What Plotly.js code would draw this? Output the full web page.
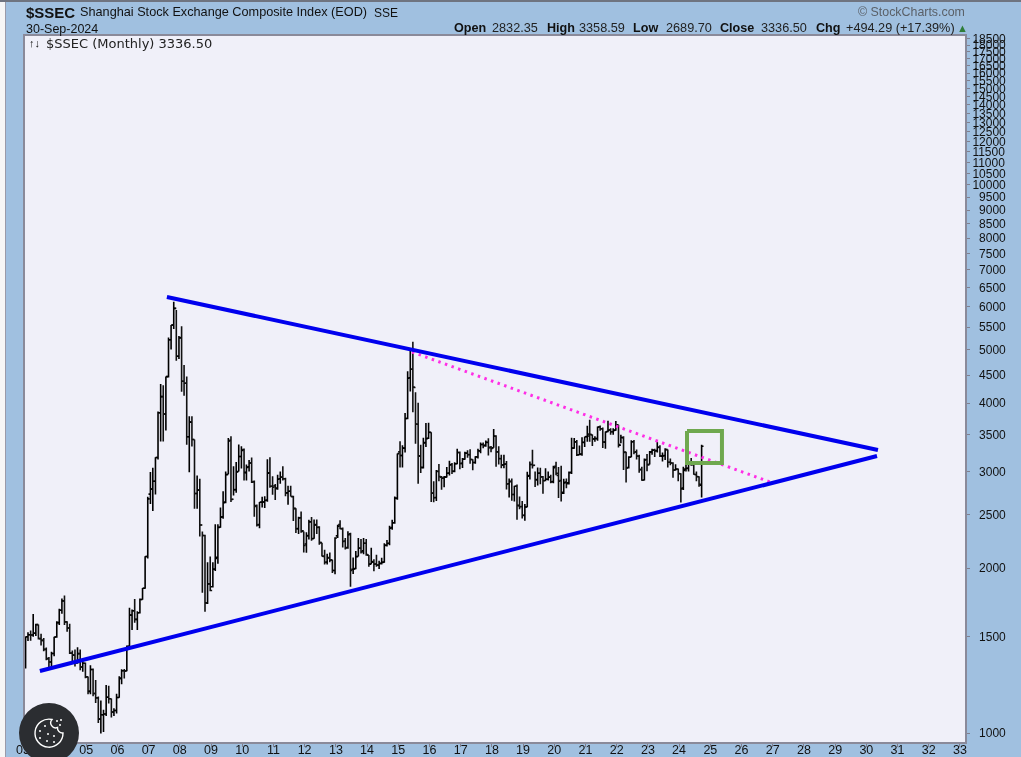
<!DOCTYPE html>
<html><head><meta charset="utf-8">
<script src="https://cdn.plot.ly/plotly-3.0.1.min.js"></script>
<style>
html,body{margin:0;padding:0;background:#a0c0e0;overflow:hidden}
#chart{position:absolute;left:0;top:0;width:1021px;height:757px;filter:blur(0.3px)}
#edgeL{position:absolute;left:0;top:0;width:5px;height:757px;background:#f6f6f6;border-right:1px solid #9a9aa8}
#edgeT{position:absolute;left:0;top:0;width:1021px;height:2px;background:#6f7480}
#cookie{position:absolute;left:19px;top:703px;width:60px;height:54px;overflow:hidden}
</style></head><body>
<div id="chart"></div><div id="edgeL"></div><div id="edgeT"></div>
<div id="cookie"><svg width="60" height="60" viewBox="0 0 60 60">
<circle cx="30" cy="30" r="30" fill="#2b2d31"/>
<path d="M33 16.5 A14 14 0 1 0 44 30 A5 5 0 0 1 38.5 24.5 A5 5 0 0 1 33 16.5 Z" fill="none" stroke="#fff" stroke-width="1.4"/>
<g fill="#fff"><circle cx="26" cy="23" r="1"/><circle cx="21" cy="28" r="1"/><circle cx="29" cy="31" r="1"/><circle cx="35" cy="33" r="1"/><circle cx="21" cy="35" r="1"/><circle cx="28" cy="38" r="1"/><circle cx="35" cy="39" r="1"/><circle cx="38" cy="18" r="1"/><circle cx="42" cy="17" r="1"/><circle cx="41" cy="22" r="1"/></g>
</svg></div>
<script>
const open_ = [
1320,1499,1511,1510,1521,1577,1487,1476,1421,1367,1348,1397,
1497,1590,1675,1742,1595,1555,1399,1387,1342,1396,1320,1341,
1266,1191,1306,1181,1159,1060,1080,1083,1162,1155,1092,1099,
1161,1258,1299,1298,1440,1641,1672,1612,1658,1752,1837,2099,
2728,2786,2881,3183,3841,4109,3820,4471,5218,5552,5954,4871,
5265,4383,4348,3472,3693,3433,2736,2775,2397,2293,1728,1871,
1849,1990,2093,2374,2480,2640,2965,3420,2670,2780,3000,3195,
3289,2987,3060,3110,2876,2600,2400,2638,2640,2660,2985,2820,
2825,2800,2910,2930,2910,2743,2762,2700,2570,2360,2470,2340,
2212,2290,2430,2265,2400,2375,2225,2100,2050,2090,2070,1980,
2289,2400,2360,2240,2180,2310,1990,1995,2100,2175,2150,2220,
2112,2033,2050,2034,2025,2040,2050,2200,2220,2370,2420,2680,
3258,3210,3310,3750,4450,4610,4270,3660,3200,3050,3390,3450,
3536,2740,2690,3000,2930,2920,2930,2980,3090,3000,3100,3250,
3105,3160,3240,3220,3155,3117,3190,3270,3360,3345,3390,3320,
3314,3480,3260,3165,3085,3095,2850,2880,2725,2820,2600,2590,
2497,2585,2950,3090,3080,2900,2980,2935,2890,2905,2930,2875,
3066,2950,2890,2740,2870,2860,2990,3310,3400,3220,3230,3390,
3474,3510,3500,3440,3445,3620,3590,3395,3550,3575,3545,3570,
3650,3350,3460,3255,3050,3190,3400,3260,3200,3025,2895,3155,
3088,3260,3285,3275,3320,3200,3210,3290,3120,3110,3020,3030,
2972,2800,3030,3040,3110,3090,2960,2935,2832.35];
const high = [
1500,1527,1539,1649,1582,1578,1517,1491,1433,1376,1407,1498,
1600,1686,1760,1783,1600,1582,1414,1420,1434,1420,1350,1345,
1268,1329,1312,1250,1166,1147,1103,1223,1220,1156,1110,1180,
1270,1307,1308,1445,1693,1680,1757,1668,1760,1840,2101,2698,
2994,3049,3184,3861,4335,4312,4472,5267,5552,6124,5912,5304,
5522,4695,4473,3786,3786,3433,2952,2909,2333,2300,2050,2100,
2050,2403,2404,2579,2763,3000,3454,3478,3068,3123,3361,3338,
3306,3090,3150,3181,2890,2611,2640,2699,2703,3159,3186,2940,
2847,2960,3000,3067,2922,2825,2826,2710,2572,2480,2536,2331,
2324,2451,2478,2453,2453,2384,2225,2159,2123,2135,2071,2277,
2398,2444,2372,2270,2335,2320,2090,2149,2270,2260,2268,2260,
2112,2177,2075,2115,2063,2088,2220,2250,2390,2450,2700,3235,
3406,3350,3835,4572,4986,5178,4184,4006,3356,3459,3678,3684,
3539,2880,3018,3097,2945,2945,3059,3140,3110,3120,3301,3265,
3175,3260,3282,3295,3160,3200,3300,3391,3391,3418,3450,3340,
3587,3495,3335,3220,3219,3135,2915,2915,2827,2840,2700,2650,
2618,2997,3130,3288,3000,3050,3048,2945,3042,3000,2960,3073,
3127,3058,3074,2910,2915,3002,3458,3455,3425,3348,3465,3474,
3637,3730,3505,3480,3625,3640,3608,3550,3715,3600,3600,3708,
3650,3500,3480,3260,3200,3420,3425,3290,3220,3060,3170,3230,
3270,3300,3300,3400,3350,3250,3310,3290,3170,3120,3092,3040,
2980,3060,3100,3130,3175,3090,3000,2940,3358.59];
const low = [
1311,1472,1473,1499,1503,1482,1444,1410,1357,1307,1317,1380,
1492,1575,1650,1574,1530,1394,1350,1323,1338,1302,1294,1259,
1177,1177,1167,1135,1043,998,1004,1074,1132,1067,1074,1085,
1160,1228,1258,1296,1435,1541,1589,1541,1653,1751,1834,2082,
2617,2541,2723,3156,3404,3404,3563,4456,5010,5462,4778,4812,
4196,4123,3357,2990,3333,2566,2566,2284,1802,1664,1719,1814,
1844,1975,2037,2370,2461,2625,2965,2639,2712,2743,3000,3039,
2890,2890,3000,2860,2481,2382,2363,2580,2573,2642,2803,2721,
2661,2780,2850,2890,2703,2610,2700,2437,2318,2307,2319,2134,
2132,2254,2242,2262,2307,2205,2100,2030,2029,2050,1959,1949,
2269,2355,2180,2162,2170,1849,1950,1990,2100,2125,2120,2106,
2010,2033,1974,2010,1991,2030,2045,2190,2200,2350,2410,2665,
3050,3050,3250,3736,4200,3848,3373,2850,2983,3040,3327,3440,
2639,2638,2650,2880,2780,2807,2925,2950,2970,2990,3094,3028,
3044,3153,3180,3100,3016,3100,3170,3240,3310,3330,3210,3254,
3314,3062,3091,3041,3041,2782,2691,2653,2644,2449,2560,2463,
2440,2582,2900,3040,2810,2830,2844,2733,2880,2890,2857,2857,
2955,2685,2646,2730,2797,2840,2970,3300,3202,3220,3207,3326,
3401,3400,3341,3400,3415,3560,3312,3300,3538,3500,3500,3560,
3320,3380,3020,2864,3040,3185,3225,3155,2985,2885,2890,3005,
3089,3220,3190,3250,3190,3130,3150,3050,3080,2924,3010,2880,
2635,2775,3000,3000,3075,2960,2880,2815,2689.70];
const close_ = [
1499,1511,1510,1521,1577,1487,1476,1421,1367,1348,1397,1497,
1590,1675,1742,1595,1555,1399,1387,1342,1396,1320,1341,1266,
1191,1306,1181,1159,1060,1080,1083,1162,1155,1092,1099,1161,
1258,1299,1298,1440,1641,1672,1612,1658,1752,1837,2099,2675,
2786,2881,3183,3841,4109,3820,4471,5218,5552,5954,4871,5261,
4383,4348,3472,3693,3433,2736,2775,2397,2293,1728,1871,1820,
1991,2082,2373,2477,2632,2959,3412,2667,2779,2996,3195,3277,
2989,3051,3109,2870,2592,2398,2637,2639,2656,2979,2820,2808,
2790,2905,2928,2911,2743,2762,2701,2567,2359,2468,2333,2199,
2292,2428,2262,2396,2372,2225,2103,2047,2086,2068,1980,2269,
2385,2359,2236,2177,2300,1979,1993,2098,2174,2141,2220,2116,
2033,2056,2033,2026,2039,2048,2201,2217,2364,2420,2683,3235,
3210,3310,3748,4441,4612,4277,3663,3206,3053,3383,3445,3539,
2738,2688,3004,2938,2917,2930,2979,3085,3005,3100,3250,3104,
3159,3242,3223,3155,3117,3192,3273,3361,3349,3393,3317,3307,
3481,3259,3169,3082,3095,2847,2876,2725,2821,2603,2588,2494,
2585,2941,3091,3078,2899,2979,2933,2886,2905,2929,2872,3050,
2977,2880,2750,2860,2852,2985,3310,3396,3218,3225,3392,3473,
3483,3509,3442,3447,3615,3591,3397,3544,3568,3547,3564,3640,
3361,3462,3252,3047,3186,3399,3253,3202,3024,2893,3151,3089,
3255,3280,3272,3323,3205,3202,3291,3120,3110,3018,3030,2975,
2789,3015,3041,3113,3087,2967,2939,2842.21,3336.50];

// Hand-drawn annotations
const upperDates = ["2007-08-12","2030-05-26"], upperVals = [6247,3284];
const lowerDates = ["2003-07-17","2030-05-15"], lowerVals = [1298,3202];
const dottedDates = ["2015-06-20","2026-12-10"], dottedVals = [4958,2871];
const boxDates = ["2024-04-12","2025-05-26","2025-05-26","2024-04-12","2024-04-12"];
const boxVals = [3557,3557,3110,3110,3557];

const yearTicks = ["2004","2005","2006","2007","2008","2009","2010","2011","2012","2013","2014","2015","2016","2017","2018","2019","2020","2021","2022","2023","2024","2025","2026","2027","2028","2029","2030","2031","2032","2033"];
const yTickVals = [1000,1500,2000,2500,3000,3500,4000,4500,5000,5500,6000,6500,7000,7500,8000,8500,9000,9500,10000,10500,11000,11500,12000,12500,13000,13500,14000,14500,15000,15500,16000,16500,17000,17500,18000,18500];

const dates = open_.map((_, i) => {
  const y = 2003 + Math.floor(i / 12), m = i % 12;
  return new Date(Date.UTC(y, m + 1, 0)).toISOString().slice(0, 10);
});

const PL = 25, PR = 965, PT = 36, PB = 742;
const px = x => (x - PL) / (PR - PL);
const py = y => (PB - y) / (PB - PT);
const sans = '"Liberation Sans", Arial, sans-serif';
function txt(x, y, text, size, bold, color, anchor, family) {
  return {xref:'paper', yref:'paper', x:px(x), y:py(y), text: bold ? '<b>'+text+'</b>' : text,
    showarrow:false, xanchor:anchor||'left', yanchor:'middle', align:anchor||'left',
    font:{family:family||sans, size:size, color:color||'#111'}, borderpad:0};
}
// Bars go in two alternating-month traces so the open/close ticks reach their picture length.
function bars(rem) {
  const keep = (a) => a.filter((_, i) => i % 2 === rem);
  return {type:'ohlc', x:keep(dates), open:keep(open_), high:keep(high), low:keep(low), close:keep(close_),
    tickwidth:0.38, increasing:{line:{color:'#000', width:1.6}}, decreasing:{line:{color:'#111', width:1.6}},
    showlegend:false, hoverinfo:'skip'};
}
const traces = [
 bars(0), bars(1),
 {type:'scatter', mode:'lines', x:dottedDates, y:dottedVals, line:{color:'#ff2ee6', width:3, dash:'2.5px,4.5px'}, showlegend:false, hoverinfo:'skip'},
 {type:'scatter', mode:'lines', x:upperDates, y:upperVals, line:{color:'#0000ee', width:4}, showlegend:false, hoverinfo:'skip'},
 {type:'scatter', mode:'lines', x:lowerDates, y:lowerVals, line:{color:'#0000ee', width:4}, showlegend:false, hoverinfo:'skip'},
 {type:'scatter', mode:'lines', x:boxDates, y:boxVals, line:{color:'#6fa84f', width:4}, showlegend:false, hoverinfo:'skip'}
];

const layout = {
  width:1021, height:757, margin:{l:25, r:56, t:36, b:15, pad:0},
  paper_bgcolor:'#a0c0e0', plot_bgcolor:'#f0f0f9', showlegend:false, dragmode:false,
  font:{family:sans, size:12, color:'#111'},
  xaxis:{type:'date', range:["2003-01-24","2033-03-10"], rangeslider:{visible:false},
    tickmode:'array', tickvals:yearTicks.map(y => y + "-01-10"), ticktext:yearTicks.map(y => y.slice(2)),
    ticks:'outside', ticklen:3, tickcolor:'#808090', tickwidth:1, showgrid:false, zeroline:false,
    showline:true, linecolor:'#8a8a9a', linewidth:2, mirror:true, ticklabelstandoff:-8,
    tickfont:{family:sans, size:12.5, color:'#111'}},
  yaxis:{type:'log', side:'right', range:[Math.log10(963), Math.log10(18700)],
    tickmode:'array', tickvals:yTickVals, ticktext:yTickVals.map(v => v < 10000 ? '\u2007' + v : String(v)),
    ticks:'outside', ticklen:3, tickcolor:'#808090', tickwidth:1, showgrid:false, zeroline:false,
    showline:true, linecolor:'#8a8a9a', linewidth:2, mirror:true,
    tickfont:{family:sans, size:12, color:'#111'}},
  annotations:[
    txt(25,12,'$SSEC',15,true,'#111'),
    txt(79,12,'Shanghai Stock Exchange Composite Index (EOD)',12.7,false,'#111'),
    txt(373,13,'SSE',12,false,'#111'),
    txt(25,29,'30-Sep-2024',12.5,false,'#111'),
    txt(453,28,'Open',12.6,true,'#111'),
    txt(491,28,'2832.35',12.7,false,'#222'),
    txt(546,28,'High',12.6,true,'#111'),
    txt(578,28,'3358.59',12.7,false,'#222'),
    txt(632,28,'Low',12.6,true,'#111'),
    txt(665,28,'2689.70',12.7,false,'#222'),
    txt(719,28,'Close',12.6,true,'#111'),
    txt(760,28,'3336.50',12.7,false,'#222'),
    txt(815,28,'Chg',12.6,true,'#111'),
    txt(845,28,'+494.29 (+17.39%)',12.7,false,'#222'),
    txt(956,28,'▲',11,false,'#2f7d3a'),
    txt(966,12,'© StockCharts.com',12.4,false,'#5a6068','right'),
    txt(28,43,'↑↓',11,false,'#111'),
    txt(45,43,'$SSEC (Monthly) 3336.50',13,false,'#222','left','"DejaVu Sans", sans-serif'),
    txt(23,750,'03',12.5,false,'#111','center')
  ]
};
Plotly.newPlot('chart', traces, layout, {staticPlot:true, displayModeBar:false});
</script></body></html>
